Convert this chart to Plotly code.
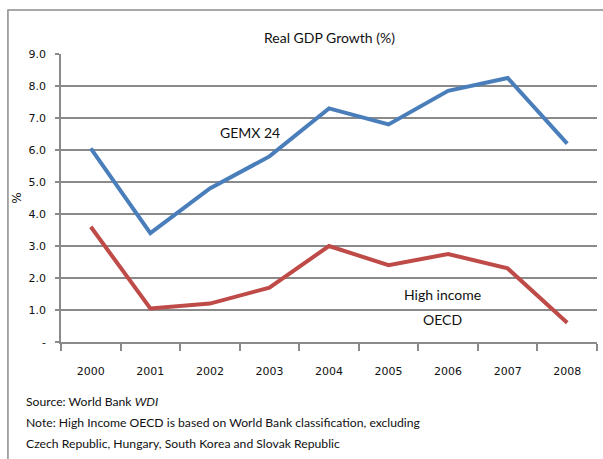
import plotly.graph_objects as go

# Real GDP growth, percent per year
years = ["2000", "2001", "2002", "2003", "2004", "2005", "2006", "2007", "2008"]
gemx24 = [6.05, 3.4, 4.8, 5.8, 7.3, 6.8, 7.85, 8.25, 6.2]
high_income_oecd = [3.6, 1.05, 1.2, 1.7, 3.0, 2.4, 2.75, 2.3, 0.6]

y_ticks = [0, 1, 2, 3, 4, 5, 6, 7, 8, 9]
y_tick_labels = ["-", "1.0", "2.0", "3.0", "4.0", "5.0", "6.0", "7.0", "8.0", "9.0"]

BLUE = "#4a7ebb"
RED = "#be4b48"
GRID = "#8a8a8a"
TEXT_FONT = "Lato"
TICK_FONT = "DejaVu Sans"
INK = "#111111"

fig = go.Figure()
fig.add_trace(go.Scatter(x=years, y=gemx24, mode="lines",
                         line=dict(color=BLUE, width=4), name="GEMX 24"))
fig.add_trace(go.Scatter(x=years, y=high_income_oecd, mode="lines",
                         line=dict(color=RED, width=4), name="High income OECD"))

fig.update_layout(
    width=603, height=459,
    margin=dict(l=61, r=6, t=54, b=117),
    paper_bgcolor="white", plot_bgcolor="white",
    showlegend=False,
    font=dict(family=TEXT_FONT, color=INK),
)

fig.update_xaxes(
    type="category", tickson="boundaries",
    ticks="outside", ticklen=7, tickcolor=GRID, tickwidth=1.5,
    showline=True, linecolor=GRID, linewidth=1.5,
    showgrid=False,
    tickfont=dict(family=TICK_FONT, size=11, color=INK),
    ticklabelstandoff=18,
    range=[-0.5, 8.5],
)
fig.update_yaxes(
    range=[0, 9], tickvals=y_ticks, ticktext=y_tick_labels,
    showgrid=True, gridcolor=GRID, gridwidth=1.5,
    showline=True, linecolor=GRID, linewidth=1.5,
    zeroline=False,
    ticks="outside", ticklen=4, tickcolor=GRID, tickwidth=1.5,
    tickfont=dict(family=TICK_FONT, size=11, color=INK),
    ticklabelstandoff=7,
    title=dict(text="%", font=dict(family=TICK_FONT, size=12, color=INK), standoff=4),
)

# Chart title and series labels
fig.add_annotation(text="Real GDP Growth (%)", xref="paper", yref="paper",
                   x=0.5, y=1.0, yshift=17, yanchor="middle", showarrow=False,
                   font=dict(family=TEXT_FONT, size=14, color=INK))
fig.add_annotation(text="GEMX 24", xref="x", yref="y", x=2.67, y=6.56,
                   showarrow=False, font=dict(family=TEXT_FONT, size=14, color=INK))
fig.add_annotation(text="High income", xref="x", yref="y", x=5.9, y=1.5,
                   showarrow=False, font=dict(family=TEXT_FONT, size=14, color=INK))
fig.add_annotation(text="OECD", xref="x", yref="y", x=5.9, y=0.69,
                   showarrow=False, font=dict(family=TEXT_FONT, size=14, color=INK))

# Source and notes below the chart
notes = [
    "Source: World Bank <i>WDI</i>",
    "Note: High Income OECD is based on World Bank classification, excluding",
    "Czech Republic, Hungary, South Korea and Slovak Republic",
]
for i, line in enumerate(notes):
    fig.add_annotation(text=line, xref="paper", yref="paper",
                       x=0, xshift=-37, y=0, yshift=-59 - 21 * i,
                       xanchor="left", yanchor="middle", showarrow=False,
                       font=dict(family=TEXT_FONT, size=12.2, color=INK))

# Outer chart frame
fig.add_shape(type="path", xref="paper", yref="paper",
              path="M -0.099,-0.5 L -0.099,1.153 L 1.05,1.153",
              line=dict(color="#8c8c8c", width=1.5))

fig.write_html("out.html")
